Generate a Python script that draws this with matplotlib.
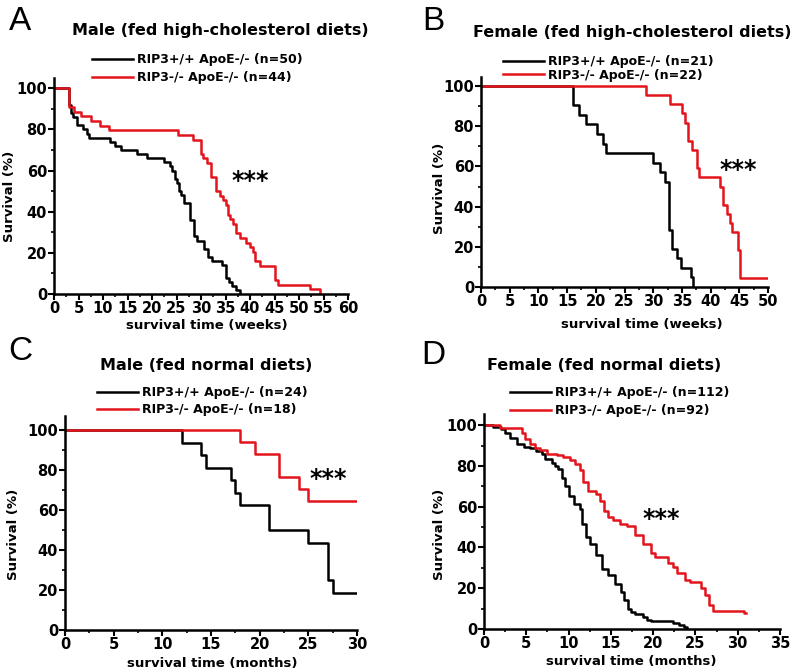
import matplotlib
matplotlib.use("Agg")
import matplotlib.pyplot as plt
from matplotlib.transforms import offset_copy

plt.rcParams['font.family'] = ['DejaVu Sans']
plt.rcParams['font.weight'] = 'bold'

RED = '#e3141c'
BLACK = '#000000'

# ---- panel A: male, high-cholesterol diet (weeks) ----
a_wt_t = [0, 3.0, 3.4, 3.8, 4.6, 6.0, 6.7, 7.2, 11.4, 12.5, 13.6, 16.9, 19.0, 22.4,
          23.7, 24.1, 24.6, 25.0, 25.5, 26.0, 26.6, 27.8, 28.5, 29.2, 30.6, 31.5,
          32.2, 34.2, 35.0, 35.7, 36.4, 37.2, 38.0]
a_wt_s = [100, 92, 88, 86, 82, 80, 78, 76, 74, 72, 70, 68, 66, 64, 62, 60, 56, 54, 50,
          48, 44, 36, 28, 26, 22, 18, 16, 14, 8, 6, 4, 2, 0]
a_ko_t = [0, 3.1, 4.0, 5.5, 7.6, 9.4, 11.2, 25.4, 28.4, 30.0, 30.5, 31.2, 32.0, 33.1,
          33.9, 34.5, 35.0, 35.5, 36.0, 36.6, 37.2, 38.0, 39.2, 39.9, 40.7, 41.1,
          42.1, 45.0, 45.8, 52.2, 54.2]
a_ko_s = [100, 90.9, 88.6, 86.4, 84.1, 81.8, 79.5, 77.3, 75.0, 68.2, 65.9, 63.6, 56.8,
          50.0, 47.7, 45.5, 43.2, 38.6, 36.4, 34.1, 29.5, 27.3, 25.0, 22.7, 20.5,
          15.9, 13.6, 6.8, 4.5, 2.3, 0]

# ---- panel B: female, high-cholesterol diet (weeks) ----
b_wt_t = [0, 16.1, 17.1, 18.3, 20.2, 21.3, 21.8, 30.0, 31.2, 32.1, 32.7, 33.3, 34.2,
          34.8, 36.5, 36.9]
b_wt_s = [100, 90.5, 85.7, 81.0, 76.2, 71.4, 66.7, 61.9, 57.1, 52.4, 28.6, 19.0, 14.3,
          9.5, 4.8, 0]
b_ko_t = [0, 28.7, 32.9, 35.1, 35.6, 36.1, 36.7, 37.7, 38.0, 41.6, 42.2, 42.8, 43.4,
          43.8, 44.8, 45.1, 50.0]
b_ko_s = [100, 95.5, 90.9, 86.4, 81.8, 72.7, 68.2, 59.1, 54.5, 50.0, 40.9, 36.4, 31.8,
          27.3, 18.2, 4.5, 4.5]

# ---- panel C: male, normal diet (months) ----
c_wt_t = [0, 12.0, 14.0, 14.5, 17.1, 17.5, 18.0, 21.0, 25.0, 27.0, 27.5, 30.0]
c_wt_s = [100, 93.75, 87.5, 81.25, 75.0, 68.75, 62.5, 50.0, 43.75, 25.0, 18.75, 18.75]
c_ko_t = [0, 18.0, 19.5, 22.0, 24.0, 25.0, 30.0]
c_ko_s = [100, 94.1, 88.2, 76.5, 70.6, 64.7, 64.7]

# ---- panel D: female, normal diet (months) ----
d_wt_t = [0, 1.1, 2.0, 2.5, 3.1, 3.9, 4.7, 5.4, 6.2, 6.8, 7.2, 8.0, 8.4, 8.8, 9.2, 9.6,
          10.0, 10.6, 11.3, 11.6, 12.1, 12.5, 13.3, 13.9, 14.7, 15.5, 16.2, 16.6,
          17.0, 17.4, 17.8, 18.8, 19.3, 19.8, 22.4, 23.0, 23.6, 24.0]
d_wt_s = [100, 99.1, 98.2, 96.4, 93.8, 90.6, 89.4, 88.6, 87.5, 86.0, 83.3, 81.6, 80.0,
          78.4, 74.3, 70.2, 65.4, 61.3, 58.9, 51.6, 45.0, 41.5, 36.1, 29.3, 26.3,
          22.3, 18.0, 14.0, 10.0, 8.4, 7.5, 6.0, 4.5, 3.7, 2.7, 1.8, 0.9, 0]
d_ko_t = [0, 1.9, 4.5, 4.8, 5.4, 6.0, 6.6, 7.4, 8.6, 9.4, 10.2, 10.8, 11.4, 11.7, 12.3,
          13.3, 13.7, 14.2, 14.7, 15.3, 16.1, 16.9, 17.9, 18.8, 19.8, 20.2, 21.8,
          22.3, 22.8, 23.8, 24.4, 25.7, 26.1, 26.6, 27.1, 30.7, 31.0]
d_ko_s = [100, 98.5, 96, 93, 91, 89, 88, 86, 85.5, 84.5, 83, 81, 78, 72, 67.5, 66, 63,
          58, 55, 53.5, 51.5, 50.5, 46, 41.5, 37.5, 35.5, 32.5, 30.5, 27.5, 24, 23,
          20, 16.5, 12, 9, 8, 8]

panels = [
    dict(letter='A', title='Male (fed high-cholesterol diets)', n=(50, 44),
         wt=(a_wt_t, a_wt_s), ko=(a_ko_t, a_ko_s), xmax=60, ytop=105,
         xlabel='survival time (weeks)', stars=(40, 56)),
    dict(letter='B', title='Female (fed high-cholesterol diets)', n=(21, 22),
         wt=(b_wt_t, b_wt_s), ko=(b_ko_t, b_ko_s), xmax=50, ytop=104.5,
         xlabel='survival time (weeks)', stars=(44.8, 59)),
    dict(letter='C', title='Male (fed normal diets)', n=(24, 18),
         wt=(c_wt_t, c_wt_s), ko=(c_ko_t, c_ko_s), xmax=30, ytop=107,
         xlabel='survival time (months)', stars=(27, 76.5)),
    dict(letter='D', title='Female (fed normal diets)', n=(112, 92),
         wt=(d_wt_t, d_wt_s), ko=(d_ko_t, d_ko_s), xmax=35, ytop=105.5,
         xlabel='survival time (months)', stars=(21, 55)),
]

# layout in pixels: axes (left, top, right, bottom), letter, title, legend, labels
layout = {
    'A': dict(ax=(54, 78, 348, 294), letter=(20, 22), title=(220, 30), leg=(92, 53),
              legsp=0.43, xl=(207, 325), yl=(10, 196)),
    'B': dict(ax=(481, 77, 768, 287), letter=(433, 21), title=(632, 32), leg=(503, 55),
              legsp=0.05, xl=(642, 325), yl=(440, 188)),
    'C': dict(ax=(65, 416, 357, 630), letter=(20, 351), title=(206, 365), leg=(97, 386),
              legsp=0.35, xl=(212, 663), yl=(14, 534)),
    'D': dict(ax=(484, 414, 780, 629), letter=(433, 355), title=(604, 365), leg=(510, 386),
              legsp=0.43, xl=(631, 662), yl=(440, 534)),
}

W, H = 796, 672
fig = plt.figure(figsize=(W / 100, H / 100), dpi=100)

for p in panels:
    lay = layout[p['letter']]
    l, t, r, b = lay['ax']
    ax = fig.add_axes([l / W, 1 - b / H, (r - l) / W, (b - t) / H])

    ax.step(p['wt'][0], p['wt'][1], where='post', color=BLACK, lw=1.8,
            label='RIP3+/+ ApoE-/- (n=%d)' % p['n'][0])
    ax.step(p['ko'][0], p['ko'][1], where='post', color=RED, lw=1.8,
            label='RIP3-/- ApoE-/- (n=%d)' % p['n'][1])

    ax.set_xlim(0, p['xmax'])
    ax.set_ylim(0, p['ytop'])
    ax.set_xticks(range(0, p['xmax'] + 1, 5))
    ax.set_xticks([x + 2.5 for x in range(0, p['xmax'], 5)], minor=True)
    ax.set_yticks(range(0, 101, 20))
    ax.set_yticks(range(10, 100, 20), minor=True)
    ax.tick_params(which='major', direction='out', length=4, width=1.5,
                   labelsize=10.5, pad=1)
    ax.tick_params(which='minor', direction='out', length=2.5, width=1.2)
    for lab in ax.get_xticklabels() + ax.get_yticklabels():
        lab.set_fontweight('bold')
    for side in ('top', 'right'):
        ax.spines[side].set_visible(False)
    for side in ('left', 'bottom'):
        ax.spines[side].set_linewidth(1.8)

    # asterisk ink sits above the text centre, pull it down a little
    star_tr = offset_copy(ax.transData, fig=fig, x=0, y=-2, units='dots')
    ax.text(p['stars'][0], p['stars'][1], '***', ha='center', va='center',
            fontsize=17, fontweight='bold', transform=star_tr)

    ax.set_xlabel(p['xlabel'], fontsize=9.5, fontweight='bold')
    ax.xaxis.set_label_coords((lay['xl'][0] - l) / (r - l), (b - lay['xl'][1]) / (b - t))
    ax.xaxis.label.set_va('center')
    ax.set_ylabel('Survival (%)', fontsize=9.5, fontweight='bold')
    ax.yaxis.set_label_coords((lay['yl'][0] - l) / (r - l), (b - lay['yl'][1]) / (b - t))
    ax.yaxis.label.set_va('center')

    leg = ax.legend(loc='upper left', bbox_to_anchor=(lay['leg'][0] / W, 1 - lay['leg'][1] / H),
                    bbox_transform=fig.transFigure, frameon=False, fontsize=9,
                    handlelength=3.3, handletextpad=0.3, labelspacing=lay['legsp'],
                    borderpad=0, borderaxespad=0)
    for txt in leg.get_texts():
        txt.set_fontweight('bold')

    fig.text(lay['title'][0] / W, 1 - lay['title'][1] / H, p['title'], ha='center',
             va='center', fontsize=11.5, fontweight='bold')
    fig.text(lay['letter'][0] / W, 1 - lay['letter'][1] / H, p['letter'], ha='center',
             va='center', fontsize=24, fontweight='normal', family='Liberation Sans')

fig.savefig('out.png', dpi=100)
